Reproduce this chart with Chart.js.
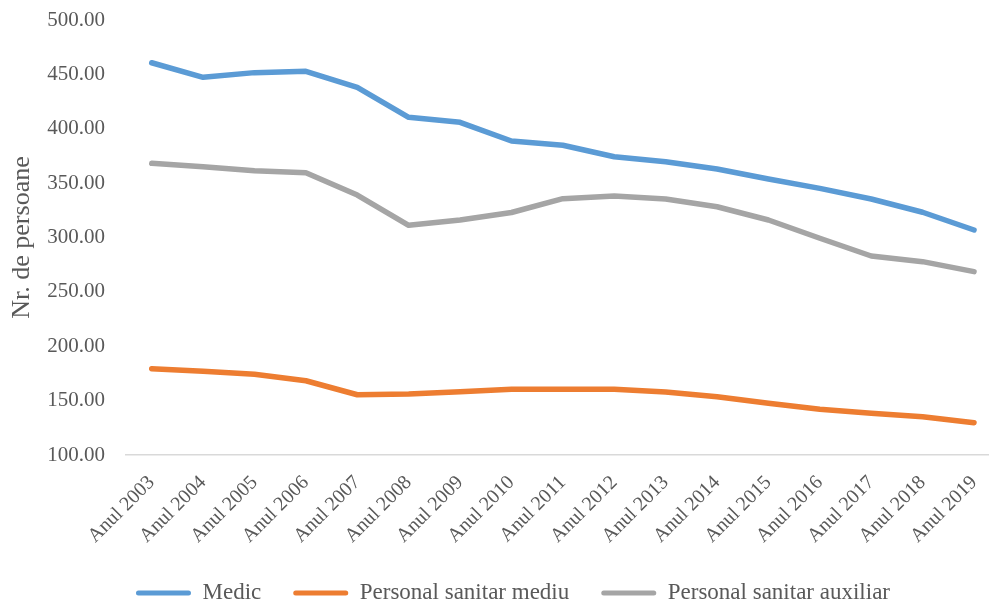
<!DOCTYPE html>
<html>
<head>
<meta charset="utf-8">
<script src="https://cdn.jsdelivr.net/npm/chart.js@4.4.0/dist/chart.umd.min.js"></script>
<style>
  html, body { margin: 0; padding: 0; background: #ffffff; overflow: hidden; }
  #wrap { position: relative; width: 1007px; height: 603px; }
</style>
</head>
<body>
<div id="wrap"><canvas id="c"></canvas></div>
<script>
const categories = ["Anul 2003","Anul 2004","Anul 2005","Anul 2006","Anul 2007","Anul 2008","Anul 2009","Anul 2010","Anul 2011","Anul 2012","Anul 2013","Anul 2014","Anul 2015","Anul 2016","Anul 2017","Anul 2018","Anul 2019"];
const medic = [460.7, 447.3, 451.6, 452.8, 438.1, 410.5, 405.9, 388.7, 384.8, 374.3, 369.7, 363.0, 353.8, 345.2, 335.4, 323.2, 306.9];
const personalMediu = [179.4, 177.0, 174.2, 168.3, 155.4, 156.1, 158.2, 160.4, 160.4, 160.4, 157.9, 153.6, 147.5, 142.0, 138.3, 135.2, 129.7];
const personalAuxiliar = [368.2, 365.1, 361.4, 359.6, 339.0, 311.2, 316.1, 323.0, 335.7, 338.2, 335.4, 328.3, 316.1, 299.3, 283.0, 277.8, 268.6];
const seriesNames = ["Medic", "Personal sanitar mediu", "Personal sanitar auxiliar"];
const yTitle = "Nr. de persoane";
const yMin = 100, yMax = 500, yStep = 50;

const FONT = "'Liberation Serif', 'Times New Roman', serif";
const TXT = '#595959';
Chart.defaults.font.family = FONT;
Chart.defaults.color = TXT;

function ds(label, data, color) {
  return {
    label, data,
    borderColor: color, backgroundColor: color,
    borderWidth: 5.5, pointRadius: 0, pointHoverRadius: 0,
    tension: 0, borderCapStyle: 'round', borderJoinStyle: 'round', fill: false
  };
}

new Chart(document.getElementById('c'), {
  type: 'line',
  data: {
    labels: categories,
    datasets: [
      ds(seriesNames[0], medic, '#5B9BD5'),
      ds(seriesNames[1], personalMediu, '#ED7D31'),
      ds(seriesNames[2], personalAuxiliar, '#A5A5A5')
    ]
  },
  options: {
    responsive: true,
    maintainAspectRatio: false,
    animation: false,
    layout: { padding: { left: 19, right: 0, top: 20, bottom: -11.5 } },
    plugins: {
      tooltip: { enabled: false },
      legend: {
        position: 'bottom',
        labels: {
          boxWidth: 55, boxHeight: 5, padding: 32,
          useBorderRadius: true, borderRadius: 2.5,
          font: { size: 23, family: FONT }, color: TXT,
          generateLabels(chart) {
            return chart.data.datasets.map((d, i) => ({
              text: d.label, fillStyle: d.borderColor, strokeStyle: d.borderColor,
              lineWidth: 0, hidden: false, datasetIndex: i, fontColor: TXT, borderRadius: 2.5
            }));
          }
        }
      }
    },
    scales: {
      x: {
        offset: true,
        grid: { display: false, drawTicks: false },
        border: { display: true, color: '#D9D9D9', width: 1.5 },
        ticks: { autoSkip: false, minRotation: 45, maxRotation: 45, padding: 16, color: TXT, font: { size: 20, family: FONT } },
        afterFit(scale) { scale.height = 94.5; }
      },
      y: {
        min: yMin, max: yMax,
        grid: { display: false, drawTicks: false },
        border: { display: false },
        ticks: { stepSize: yStep, padding: 21, color: TXT, font: { size: 21, family: FONT },
          callback: v => Number(v).toFixed(2) },
        title: { display: true, text: yTitle, color: TXT, font: { size: 26, family: FONT }, padding: { top: -12.6, bottom: 0 } },
        afterFit(scale) { scale.width = 107; scale.paddingTop = 11; scale.paddingBottom = 11; }
      }
    }
  }
});
</script>
</body>
</html>
